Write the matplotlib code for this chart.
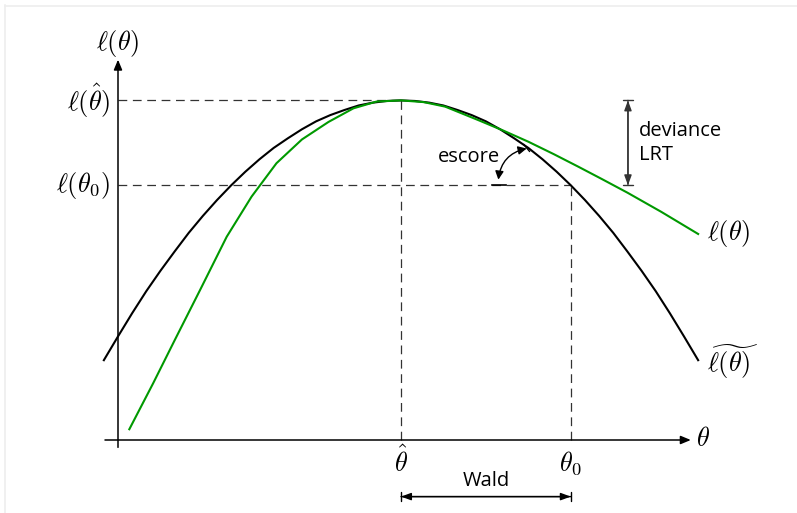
import matplotlib.pyplot as plt
from matplotlib.patches import FancyArrowPatch

# curva cuadratica (aproximacion)
theta_aprox = [-0.25, 0, 0.25, 0.5, 0.75, 1, 1.25, 1.5, 1.75, 2, 2.25, 2.5, 2.75,
               3, 3.25, 3.5, 3.75, 4, 4.25, 4.5, 4.75, 5, 5.25, 5.5, 5.75, 6,
               6.25, 6.5, 6.75, 7, 7.25, 7.5, 7.75, 8, 8.25, 8.5, 8.75, 9, 9.25,
               9.5, 9.75, 10, 10.25]
l_aprox = [1.41, 1.83, 2.24, 2.63, 2.99, 3.33, 3.66, 3.96, 4.24, 4.50, 4.74, 4.96,
           5.16, 5.33, 5.49, 5.63, 5.74, 5.83, 5.91, 5.96, 5.99, 6.00, 5.99, 5.96,
           5.91, 5.83, 5.74, 5.63, 5.49, 5.33, 5.16, 4.96, 4.74, 4.50, 4.24, 3.96,
           3.66, 3.33, 2.99, 2.63, 2.24, 1.83, 1.41]

# log-verosimilitud (verde)
theta_l = [0.2, 0.62, 1.0, 1.45, 1.92, 2.36, 2.8, 3.25, 3.72, 4.16, 4.57, 5.0,
           5.4, 5.78, 6.37, 6.8, 7.25, 7.7, 8.13, 8.55, 9.0, 9.6, 10.25]
l_theta = [0.19, 1.00, 1.76, 2.65, 3.59, 4.30, 4.89, 5.31, 5.62, 5.86, 5.98, 6.00,
           5.97, 5.89, 5.65, 5.47, 5.27, 5.05, 4.83, 4.61, 4.37, 4.03, 3.64]

theta_hat = 5.0
theta_0 = 8.0
l_hat = 6.0
l_0 = 4.5

plt.rcParams['mathtext.fontset'] = 'cm'
plt.rcParams['font.family'] = ['Open Sans', 'DejaVu Sans']

fig = plt.figure(figsize=(7.97, 5.13), dpi=100)
ax = fig.add_axes([0, 0, 1, 1])
ax.set_xlim(-118 / 56.6, 679 / 56.6)
ax.set_ylim(-73 / 56.6, 440 / 56.6)
ax.axis('off')

# marco tenue
ax.plot([5 / 56.6 - 118 / 56.6] * 2, [-73 / 56.6, 435 / 56.6], color='#eeeeee', lw=1.2)
ax.plot([5 / 56.6 - 118 / 56.6, 679 / 56.6], [434 / 56.6] * 2, color='#eeeeee', lw=1.2)

# ejes
arr = dict(arrowstyle='-|>,head_length=0.6,head_width=0.25', color='black', lw=1.1,
           shrinkA=0, shrinkB=0)
ax.annotate('', xy=(0, 6.72), xytext=(0, -0.13), arrowprops=arr)
ax.annotate('', xy=(10.12, 0), xytext=(-0.23, 0), arrowprops=arr)

# lineas punteadas
dash = dict(color='#333333', lw=0.9, dashes=(7, 4.5))
ax.plot([0, theta_hat], [l_hat, l_hat], **dash)
ax.plot([0, theta_0], [l_0, l_0], **dash)
ax.plot([theta_hat, theta_hat], [0, l_hat], **dash)
ax.plot([theta_0, theta_0], [0, l_0], **dash)

# curvas
ax.plot(theta_aprox, l_aprox, color='black', lw=1.5, solid_joinstyle='round')
ax.plot(theta_l, l_theta, color='#009900', lw=1.5, solid_joinstyle='round')

# etiquetas
fs = 19
zero = r'\mathsf{0}'
ax.text(0, 7.0, r'$\ell(\theta)$', ha='center', va='center', fontsize=fs)
ax.text(-0.14, l_hat, r'$\ell(\hat{\theta})$', ha='right', va='center', fontsize=fs)
ax.text(-0.14, l_0, r'$\ell(\theta_%s)$' % zero, ha='right', va='center', fontsize=fs)
ax.text(10.22, 0, r'$\theta$', ha='left', va='center', fontsize=fs)
ax.text(theta_hat, -0.4, r'$\hat{\theta}$', ha='center', va='center', fontsize=fs)
ax.text(theta_0, -0.4, r'$\theta_%s$' % zero, ha='center', va='center', fontsize=fs)
ax.text(10.4, 3.64, r'$\ell(\theta)$', ha='left', va='center', fontsize=fs)
ax.text(10.4, 1.38, r'$\widetilde{\ell(\theta)}$', ha='left', va='center', fontsize=fs)

# Wald
tfs = 14.5
cap = dict(arrowstyle='|-|,widthA=0.35,widthB=0.35', color='black', lw=1.0,
           shrinkA=0, shrinkB=0)
dbl = dict(arrowstyle='<|-|>,head_length=0.6,head_width=0.22', color='black', lw=1.0,
           shrinkA=0, shrinkB=0)
ax.annotate('', xy=(theta_0, -1.0), xytext=(theta_hat, -1.0), arrowprops=cap)
ax.annotate('', xy=(theta_0, -1.0), xytext=(theta_hat, -1.0), arrowprops=dbl)
ax.text((theta_hat + theta_0) / 2, -0.72, 'Wald', ha='center', va='center', fontsize=tfs)

# deviance / LRT
xd = 9.01
cap2 = dict(cap, color='#333333')
dbl2 = dict(dbl, color='#333333')
ax.annotate('', xy=(xd, l_0), xytext=(xd, l_hat), arrowprops=cap2)
ax.annotate('', xy=(xd, l_0), xytext=(xd, l_hat), arrowprops=dbl2)
ax.text(xd + 0.2, (l_hat + l_0) / 2, 'deviance\nLRT', ha='left', va='center',
        fontsize=tfs, linespacing=1.25)

# escore
p1 = (6.72, l_0 + 0.1)
p2 = (7.22, 5.15)
ax.plot([6.6, 6.85], [l_0, l_0], color='black', lw=1.2)
ax.plot([7.17, 7.27], [5.22, 5.10], color='black', lw=1.0)
ax.add_patch(FancyArrowPatch(p1, p2, connectionstyle='arc3,rad=-0.35',
                             arrowstyle='<|-|>,head_length=5,head_width=2.5',
                             color='black', lw=1.0, shrinkA=0, shrinkB=0))
ax.text(6.2, 5.0, 'escore', ha='center', va='center', fontsize=tfs)

fig.savefig('out.png', dpi=100)
